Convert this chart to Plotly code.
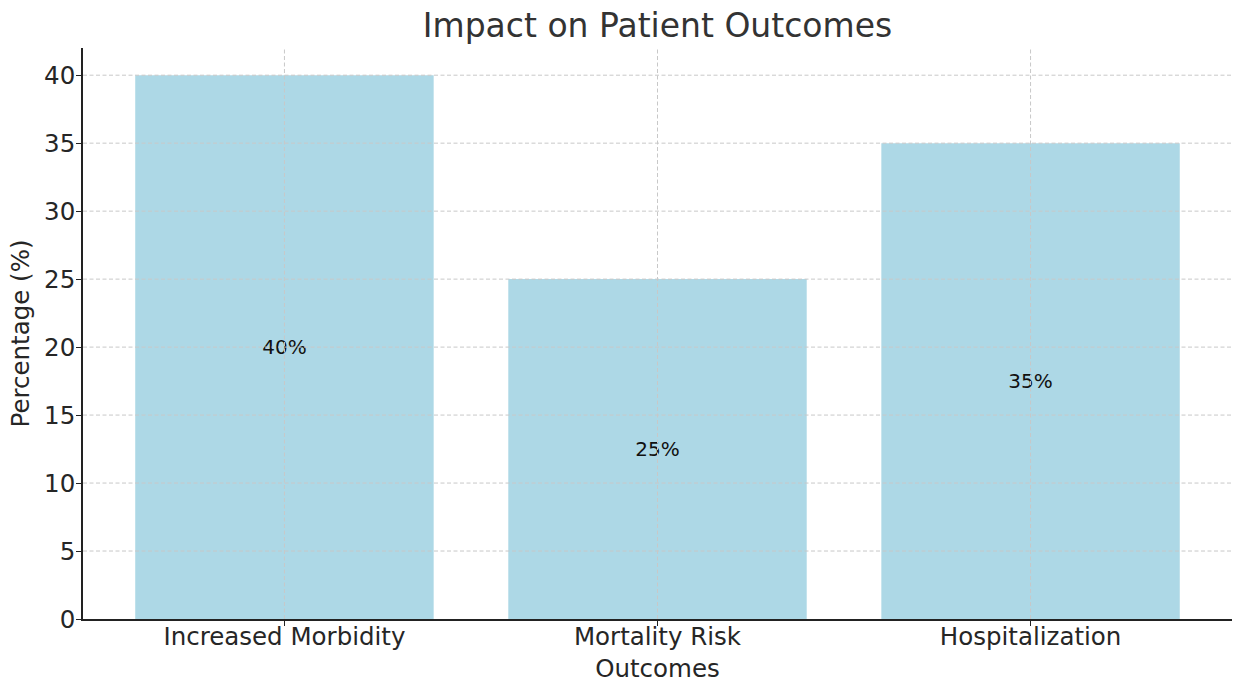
import plotly.graph_objects as go

# Data
outcomes = ["Increased Morbidity", "Mortality Risk", "Hospitalization"]
percentages = [40, 25, 35]
y_ticks = [0, 5, 10, 15, 20, 25, 30, 35, 40]

FONT = "DejaVu Sans"
TEXT = "#262626"
GRID = "#c8c8c8"
DASH = "4px,2.5px"

fig = go.Figure(
    go.Bar(
        x=list(range(len(outcomes))),
        y=percentages,
        width=0.8,
        marker=dict(color="#add8e6", line=dict(width=0)),
        text=[f"{v}%" for v in percentages],
        textposition="inside",
        insidetextanchor="middle",
        textfont=dict(family=FONT, size=20, color="#111111"),
        textangle=0,
        hoverinfo="skip",
    )
)

# Dashed grid drawn over the bars
shapes = []
for t in y_ticks[1:]:
    shapes.append(dict(type="line", xref="paper", yref="y", x0=0, x1=1, y0=t, y1=t,
                       line=dict(color=GRID, width=1, dash=DASH), layer="above"))
for i in range(len(outcomes)):
    shapes.append(dict(type="line", xref="x", yref="paper", x0=i, x1=i, y0=0, y1=1,
                       line=dict(color=GRID, width=1, dash=DASH), layer="above"))

fig.update_layout(
    width=1233,
    height=683,
    margin=dict(l=83, r=1, t=48, b=64),
    paper_bgcolor="white",
    plot_bgcolor="white",
    font=dict(family=FONT, color=TEXT),
    showlegend=False,
    shapes=shapes,
    title=dict(text="Impact on Patient Outcomes", xref="paper", x=0.5, xanchor="center",
               y=1 - 25 / 683, yanchor="middle",
               font=dict(family=FONT, size=33, color="#333333")),
    xaxis=dict(
        range=[-0.54, 2.54],
        tickmode="array",
        tickvals=list(range(len(outcomes))),
        ticktext=outcomes,
        tickfont=dict(size=24.5, color=TEXT),
        ticklabelstandoff=-10,
        showgrid=False,
        zeroline=False,
        showline=True, linecolor="#222222", linewidth=1.6,
        ticks="outside", ticklen=5, tickcolor="#222222", tickwidth=1.2,
        title=dict(text="Outcomes", font=dict(size=24.5, color=TEXT), standoff=12),
        automargin=False,
    ),
    yaxis=dict(
        range=[0, 42],
        tickmode="array",
        tickvals=y_ticks,
        tickfont=dict(size=24.5, color=TEXT),
        ticklabelstandoff=-4,
        showgrid=False,
        zeroline=False,
        showline=True, linecolor="#222222", linewidth=1.6,
        ticks="outside", ticklen=5, tickcolor="#222222", tickwidth=1.2,
        title=dict(text="Percentage (%)", font=dict(size=24.5, color=TEXT), standoff=8),
        automargin=False,
    ),
)

fig.write_html("out.html")
